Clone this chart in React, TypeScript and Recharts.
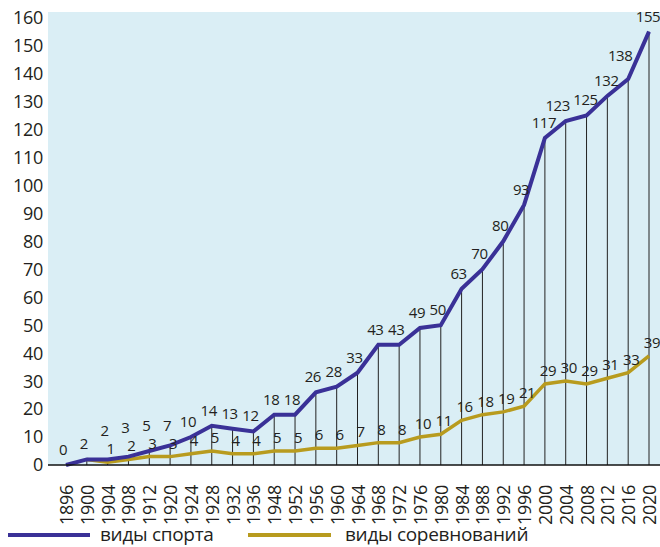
import React from 'react';
import { ComposedChart, Line, XAxis, YAxis, CartesianGrid, ReferenceLine, LabelList } from 'recharts';

const years = ['1896', '1900', '1904', '1908', '1912', '1920', '1924', '1928', '1932', '1936', '1948', '1952', '1956', '1960', '1964', '1968', '1972', '1976', '1980', '1984', '1988', '1992', '1996', '2000', '2004', '2008', '2012', '2016', '2020'];
const sports = [0, 2, 2, 3, 5, 7, 10, 14, 13, 12, 18, 18, 26, 28, 33, 43, 43, 49, 50, 63, 70, 80, 93, 117, 123, 125, 132, 138, 155];
const events = [null, 2, 1, 2, 3, 3, 4, 5, 4, 4, 5, 5, 6, 6, 7, 8, 8, 10, 11, 16, 18, 19, 21, 29, 30, 29, 31, 33, 39];
const yTicks = [0, 10, 20, 30, 40, 50, 60, 70, 80, 90, 100, 110, 120, 130, 140, 150, 160];

const BLUE = '#3a3197';
const GOLD = '#b89b1e';
const TEXT = '#231f20';
const FONT = '"Open Sans", sans-serif';

const W = 660;
const H = 547;
const TOP = 12;
const AXIS_H = 82;
const Y_MAX = 162;
const PX = (H - TOP - AXIS_H) / Y_MAX;

const data = years.map((year, i) => ({ year, sports: sports[i], events: events[i] }));

// eslint-disable-next-line @typescript-eslint/no-explicit-any
function YearTick({ x, y, payload }: any) {
    return (
        <text
            transform={`translate(${x},${y + 12}) rotate(-90)`}
            textAnchor="end"
            dominantBaseline="central"
            fontSize={18}
            fontFamily={FONT}
            fill={TEXT}
            letterSpacing={-0.3}
        >
            {payload.value}
        </text>
    );
}

// eslint-disable-next-line @typescript-eslint/no-explicit-any
function SportsLabel({ x, y, value, index }: any) {
    const ev = events[index];
    // push the label up where the gold label sits right below it
    const diff = ev == null || ev === value ? 99 : (value - ev) * PX;
    let lift = Math.max(16, 32 - diff);
    // wide labels that would run into the next one or into a steep segment get nudged left
    const next = sports[index + 1];
    let dx = value >= 100 ? -1 : -3;
    if (value >= 100 && next != null && Math.abs(next - value) <= 3) dx = -8;
    if (value >= 100 && next != null && next - value > 10) {
        dx = -8;
        lift = 24;
    }
    return (
        <text x={x + dx} y={y - lift} textAnchor="middle" dominantBaseline="central" fontSize={15} letterSpacing={-0.4} fontFamily={FONT} fill={TEXT}>
            {value}
        </text>
    );
}

// eslint-disable-next-line @typescript-eslint/no-explicit-any
function EventsLabel({ x, y, value, index }: any) {
    if (value == null || value === sports[index]) return null;
    return (
        <text x={x + 3} y={y - 14} textAnchor="middle" dominantBaseline="central" fontSize={15} letterSpacing={-0.4} fontFamily={FONT} fill={TEXT}>
            {value}
        </text>
    );
}

function LegendRow() {
    const item = (color: string, label: string, lineLeft: number, lineWidth: number, textLeft: number) => (
        <React.Fragment key={label}>
            <span style={{ position: 'absolute', left: lineLeft, top: 533, width: lineWidth, height: 4, background: color }} />
            <span style={{ position: 'absolute', left: textLeft, top: 521, fontSize: 19, lineHeight: '26px', color: TEXT, fontFamily: FONT, whiteSpace: 'nowrap', letterSpacing: -0.3 }}>
                {label}
            </span>
        </React.Fragment>
    );
    return (
        <>
            {item(BLUE, 'виды спорта', 8, 82, 100)}
            {item(GOLD, 'виды соревнований', 248, 83, 345)}
        </>
    );
}

export default function App() {
    return (
        <div style={{ position: 'absolute', left: 0, top: 0, width: W, height: H, background: '#fff', overflow: 'hidden' }}>
            <ComposedChart width={W} height={H} data={data} margin={{ top: TOP, right: 0, left: 0, bottom: 0 }}>
                <CartesianGrid horizontal={false} vertical={false} fill="#daeef5" stroke="none" />
                <XAxis
                    dataKey="year"
                    height={AXIS_H}
                    interval={0}
                    padding={{ left: 18, right: 11 }}
                    tick={<YearTick />}
                    tickLine={false}
                    axisLine={{ stroke: '#111', strokeWidth: 1.5 }}
                />
                <YAxis
                    domain={[0, Y_MAX]}
                    ticks={yTicks}
                    width={48}
                    interval={0}
                    axisLine={false}
                    tickLine={false}
                    tickSize={0}
                    tickMargin={5}
                    tick={{ fontSize: 18, fill: TEXT, fontFamily: FONT, letterSpacing: -0.3 }}
                />
                {data.filter(d => d.sports > 0).map(d => (
                    <ReferenceLine
                        key={`drop-${d.year}`}
                        segment={[{ x: d.year, y: 0 }, { x: d.year, y: d.sports }]}
                        stroke="#222"
                        strokeWidth={1}
                    />
                ))}
                <Line type="linear" dataKey="events" stroke={GOLD} strokeWidth={3.5} dot={false} isAnimationActive={false} connectNulls={false}>
                    <LabelList dataKey="events" content={<EventsLabel />} />
                </Line>
                <Line type="linear" dataKey="sports" stroke={BLUE} strokeWidth={4} dot={false} isAnimationActive={false}>
                    <LabelList dataKey="sports" content={<SportsLabel />} />
                </Line>
            </ComposedChart>
            <LegendRow />
        </div>
    );
}
